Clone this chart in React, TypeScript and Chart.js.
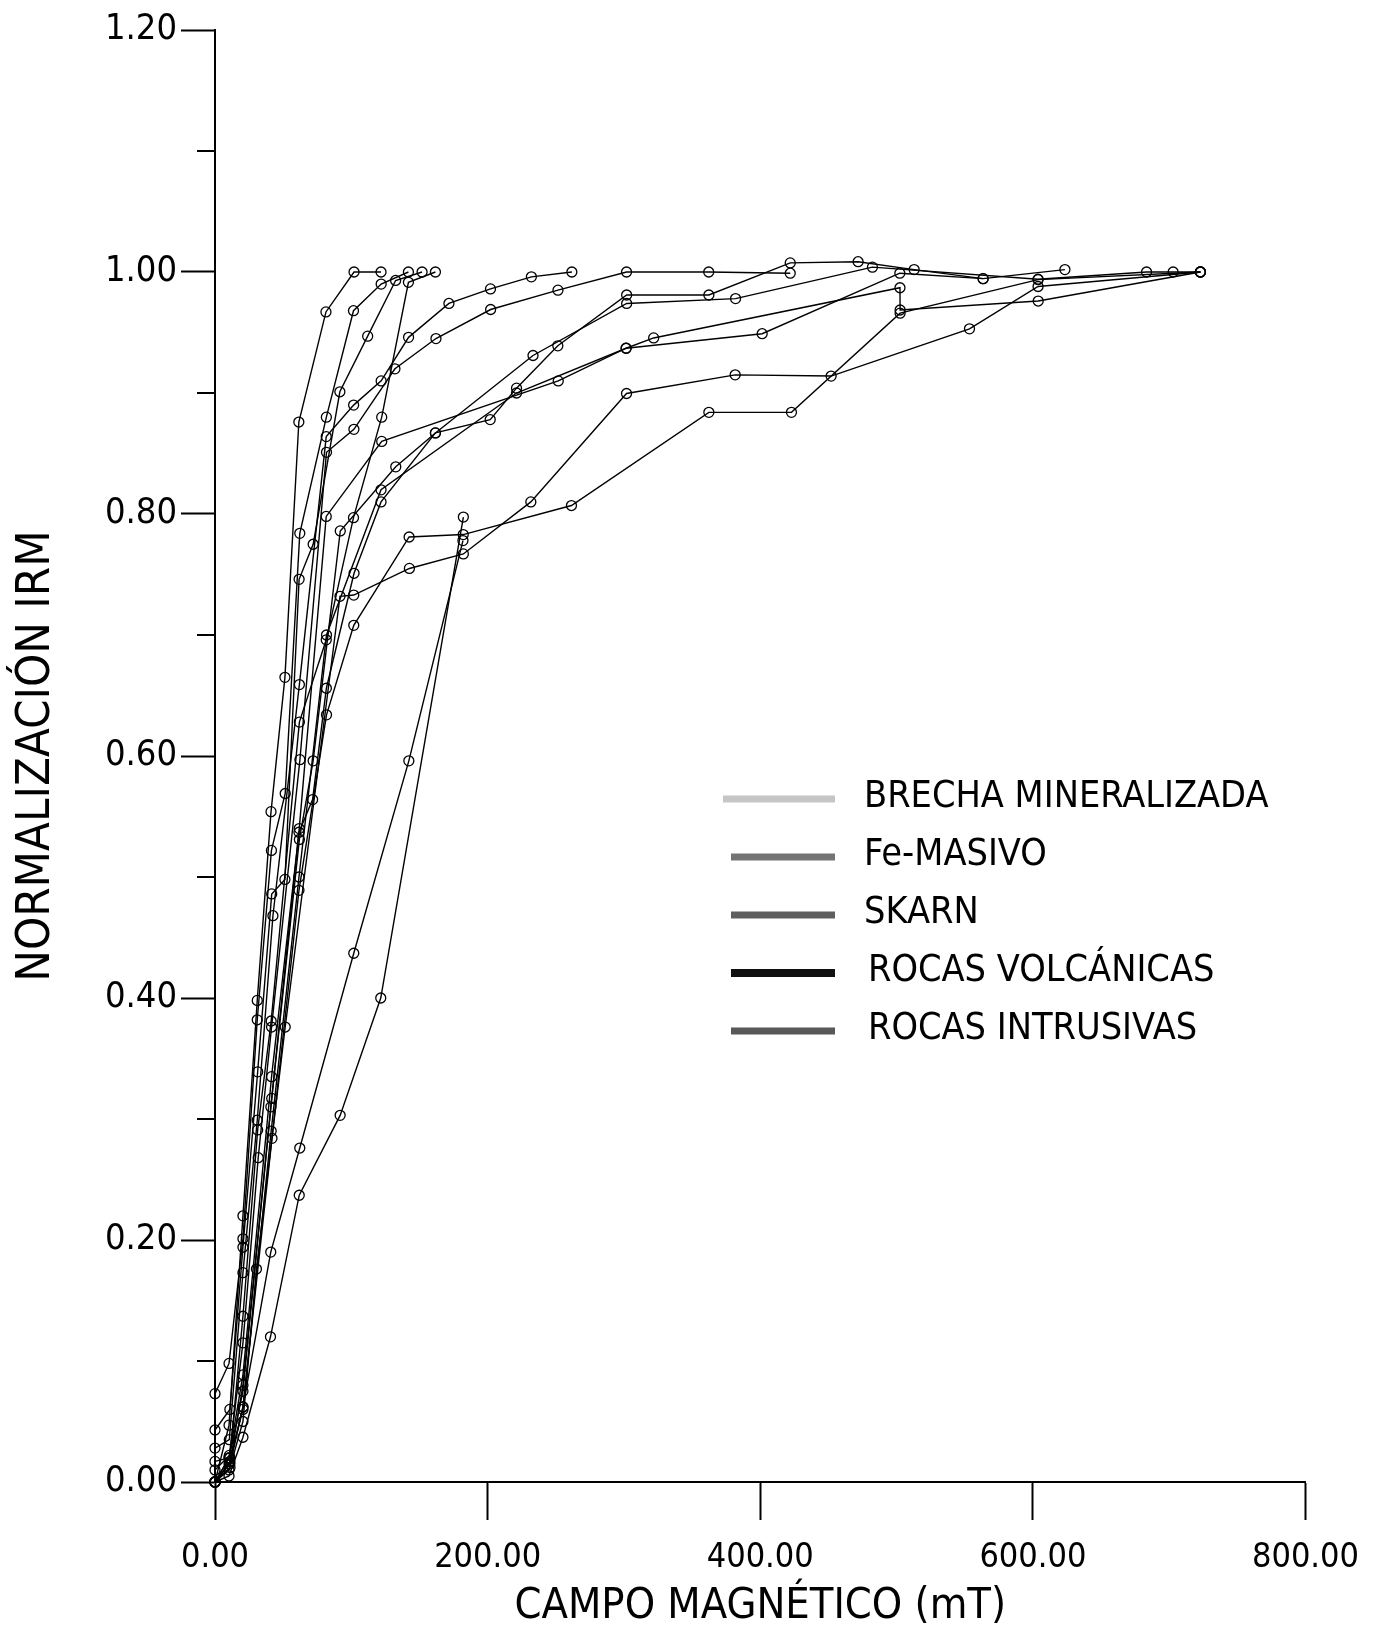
import React, { useEffect, useRef } from "react";
import { Chart, registerables } from "chart.js";

Chart.register(...registerables);

// ---------- axis ticks ----------
const xTicks = [0, 200, 400, 600, 800];
const yTicks = [0, 0.2, 0.4, 0.6, 0.8, 1.0, 1.2];
const yMinorTicks = [0.1, 0.3, 0.5, 0.7, 0.9, 1.1];

// ---------- legend categories ----------
const categories = [
  "BRECHA MINERALIZADA",
  "Fe-MASIVO",
  "SKARN",
  "ROCAS VOLCÁNICAS",
  "ROCAS INTRUSIVAS",
];
const categoryColors = ["#c6c6c6", "#747474", "#5f5f5f", "#111111", "#585858"];

// ---------- IRM curves: [field mT, normalised IRM] ----------
const curve01: [number, number][] = [[0, 0], [10.3, 0.047], [20.5, 0.22], [31, 0.398], [41.1, 0.554], [51.3, 0.665], [61.5, 0.876], [81.4, 0.967], [102, 1.0], [121.8, 1.0]];
const curve02: [number, number][] = [[0, 0.073], [10.3, 0.098], [20.5, 0.201], [31, 0.382], [41.4, 0.522], [51.5, 0.569], [62.2, 0.784], [81.7, 0.88], [101.6, 0.968], [121.9, 0.99], [141.9, 1.0]];
const curve03: [number, number][] = [[0, 0.043], [10.9, 0.06], [20.5, 0.194], [31.3, 0.339], [41.6, 0.486], [51.3, 0.498], [61.7, 0.746], [72, 0.775], [91.6, 0.901], [112, 0.947], [132.5, 0.993], [151.9, 1.0]];
const curve04: [number, number][] = [[0, 0.028], [10.5, 0.035], [20.5, 0.173], [31, 0.299], [42.5, 0.468], [61.9, 0.659], [81.6, 0.864], [101.7, 0.89], [121.9, 0.91], [142, 0.946], [171.6, 0.974], [202.1, 0.986], [232.1, 0.996], [261.8, 1.0]];
const curve05: [number, number][] = [[0, 0.017], [10.9, 0.02], [20.5, 0.137], [31.3, 0.291], [41.2, 0.381], [61.9, 0.628], [81.6, 0.696], [101.6, 0.797], [122.3, 0.88], [141.9, 0.9915], [161.7, 1.0]];
const curve06: [number, number][] = [[0, 0.01], [10.5, 0.022], [20.5, 0.115], [31.7, 0.268], [41.5, 0.376], [62.3, 0.597], [81.8, 0.851], [101.9, 0.87], [132, 0.92], [162.1, 0.945], [202.2, 0.969], [251.6, 0.985], [301.9, 1.0], [362.2, 1.0], [422, 0.999]];
const curve07: [number, number][] = [[0, 0], [10.3, 0.02], [20.5, 0.0886], [41.5, 0.335], [61.6, 0.537], [71.6, 0.564], [81.7, 0.656], [102, 0.751], [121.8, 0.81], [161.7, 0.867], [201.9, 0.878], [221.2, 0.904], [251.5, 0.939], [302, 0.981], [362.3, 0.981], [422, 1.0075], [471.8, 1.0085], [512.9, 1.002], [563.5, 0.9945], [623.5, 1.002]];
const curve08: [number, number][] = [[0, 0], [10.9, 0.015], [20.5, 0.08], [41.6, 0.317], [61.9, 0.531], [72, 0.596], [91.9, 0.786], [132.6, 0.839], [161.7, 0.867], [233.3, 0.931], [302, 0.974], [381.9, 0.978], [482.3, 1.004], [603.8, 0.994], [683.4, 1.0], [702.9, 1.0], [722.9, 1.0]];
const curve09: [number, number][] = [[0, 0], [10.9, 0.0167], [20.5, 0.062], [41.8, 0.284], [61.6, 0.489], [81.8, 0.634], [101.8, 0.708], [142.4, 0.781], [182.1, 0.783], [261.5, 0.807], [362.3, 0.884], [422.9, 0.884], [502.6, 0.966], [603.8, 0.9937], [722.9, 1.0]];
const curve10: [number, number][] = [[0, 0], [11, 0.012], [20.5, 0.05], [30.4, 0.176], [51.5, 0.376], [91.7, 0.732], [101.8, 0.733], [142.6, 0.755], [182.2, 0.767], [231.7, 0.81], [301.9, 0.8996], [381.6, 0.915], [452, 0.914], [553.5, 0.953], [603.8, 0.988], [722.9, 1.0]];
const curve11: [number, number][] = [[0, 0], [10.3, 0.02], [20.5, 0.075], [41, 0.31], [61.8, 0.54], [81.6, 0.798], [122.3, 0.86], [251.8, 0.91], [301.6, 0.937], [321.8, 0.9455], [502.5, 0.987], [502.6, 0.9686], [603.9, 0.976], [722.9, 1.0]];
const curve12: [number, number][] = [[0, 0], [10.3, 0.015], [20.5, 0.06], [41.2, 0.29], [61.6, 0.5], [81.8, 0.7], [121.8, 0.82], [221.2, 0.9], [301.6, 0.937], [401.4, 0.949], [502.4, 0.999], [563.5, 0.9945]];
const curve13: [number, number][] = [[0, 0], [10.3, 0.01], [20.5, 0.062], [40.9, 0.19], [62.2, 0.276], [101.8, 0.437], [142.2, 0.596], [181.9, 0.778]];
const curve14: [number, number][] = [[0, 0], [10.3, 0.005], [20.5, 0.037], [40.7, 0.12], [61.8, 0.237], [91.8, 0.303], [121.6, 0.4], [182.2, 0.7975]];

const curves = [curve01, curve02, curve03, curve04, curve05, curve06, curve07, curve08, curve09, curve10, curve11, curve12, curve13, curve14];
const curveCategory = [1, 1, 2, 2, 0, 0, 3, 3, 4, 4, 0, 2, 3, 4];

const FONT = "'Liberation Sans Narrow', 'Arial Narrow', 'DejaVu Sans Condensed', 'Liberation Sans', Arial, sans-serif";

export default function App() {
  const ref = useRef<HTMLCanvasElement>(null);

  useEffect(() => {
    const canvas = ref.current;
    if (!canvas) return;

    const minorTickPlugin = {
      id: "minorTicks",
      afterDraw(chart: any) {
        const { ctx } = chart;
        const y = chart.scales.y;
        const left = chart.chartArea.left;
        ctx.save();
        ctx.strokeStyle = "#000";
        ctx.lineWidth = 2;
        yMinorTicks.forEach((v) => {
          const py = Math.round(y.getPixelForValue(v));
          ctx.beginPath();
          ctx.moveTo(left - 18, py);
          ctx.lineTo(left, py);
          ctx.stroke();
        });
        ctx.restore();
      },
    };

    const legendPlugin = {
      id: "customLegend",
      afterDraw(chart: any) {
        const { ctx, chartArea } = chart;
        const swStart = chartArea.left + 516;
        const swEnd = chartArea.left + 620;
        const textX = chartArea.left + 649;
        const rowTop = 797;
        const rowGap = 58;
        ctx.save();
        ctx.font = `37.5px ${FONT}`;
        ctx.textBaseline = "middle";
        ctx.textAlign = "left";
        categories.forEach((name, i) => {
          const cy = rowTop + i * rowGap;
          ctx.strokeStyle = categoryColors[i];
          ctx.lineWidth = i === 3 ? 8 : 7;
          ctx.lineCap = "butt";
          ctx.beginPath();
          ctx.moveTo(i === 0 ? swStart - 8 : swStart, cy + 2);
          ctx.lineTo(swEnd, cy + 2);
          ctx.stroke();
          ctx.fillStyle = "#000";
          ctx.fillText(name, textX + (i >= 3 ? 4 : 0), cy);
        });
        ctx.restore();
      },
    };

    const chart = new Chart(canvas, {
      type: "line",
      data: {
        datasets: curves.map((c, i) => ({
          label: `${categories[curveCategory[i]]} ${i + 1}`,
          data: c.map(([x, y]) => ({ x, y })),
          borderColor: "#000",
          borderWidth: 1.4,
          pointRadius: 5,
          pointBorderWidth: 1.3,
          pointBorderColor: "#000",
          pointBackgroundColor: "rgba(0,0,0,0)",
          fill: false,
          tension: 0,
          clip: false as any,
        })),
      },
      options: {
        animation: false,
        responsive: false,
        maintainAspectRatio: false,
        layout: { padding: { top: 30, right: 70, bottom: 0, left: 0 } },
        plugins: { legend: { display: false }, tooltip: { enabled: false } },
        scales: {
          x: {
            type: "linear",
            min: 0,
            max: 800,
            afterBuildTicks: (s: any) => {
              s.ticks = xTicks.map((v) => ({ value: v }));
            },
            afterFit: (s: any) => {
              s.height = 149;
            },
            ticks: {
              callback: (v: any) => Number(v).toFixed(2),
              font: { family: FONT, size: 34 },
              color: "#000",
              padding: 18,
              maxRotation: 0,
              autoSkip: false,
            },
            grid: { display: true, drawOnChartArea: false, tickLength: 38, tickWidth: 2, tickColor: "#000" },
            border: { display: true, color: "#000", width: 2 },
            title: {
              display: true,
              text: "CAMPO MAGNÉTICO (mT)",
              font: { family: FONT, size: 43, lineHeight: 1 },
              color: "#000",
              padding: { top: 0, bottom: 3 },
            },
          },
          y: {
            type: "linear",
            min: 0,
            max: 1.2,
            afterBuildTicks: (s: any) => {
              s.ticks = yTicks.map((v) => ({ value: v }));
            },
            afterFit: (s: any) => {
              s.width = 215;
            },
            ticks: {
              callback: (v: any) => Number(v).toFixed(2),
              font: { family: FONT, size: 36 },
              color: "#000",
              padding: 4,
              autoSkip: false,
            },
            grid: { display: true, drawOnChartArea: false, tickLength: 34, tickWidth: 2, tickColor: "#000" },
            border: { display: true, color: "#000", width: 2 },
            title: {
              display: true,
              text: "NORMALIZACIÓN IRM",
              font: { family: FONT, size: 47, lineHeight: 1 },
              color: "#000",
              padding: { top: 13, bottom: 0 },
            },
          },
        },
      },
      plugins: [minorTickPlugin, legendPlugin],
    } as any);

    return () => chart.destroy();
  }, []);

  return (
    <div style={{ position: "absolute", left: 0, top: 0, width: 1377, height: 1631, background: "#fff" }}>
      <canvas ref={ref} width={1377} height={1631} style={{ display: "block", width: 1377, height: 1631 }} />
    </div>
  );
}
